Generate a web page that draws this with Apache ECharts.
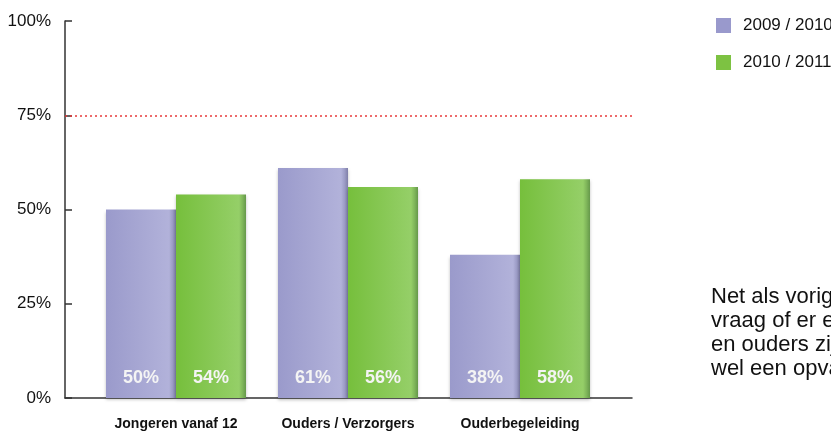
<!DOCTYPE html>
<html>
<head>
<meta charset="utf-8">
<script src="https://cdn.jsdelivr.net/npm/echarts@6/dist/echarts.min.js"></script>
<style>
	html, body { margin: 0; padding: 0; background: #fff; }
	#chart { width: 831px; height: 432px; }
</style>
</head>
<body>
<div id="chart"></div>
<script>
const categories = ["Jongeren vanaf 12", "Ouders / Verzorgers", "Ouderbegeleiding"]
const seriesNames = ["2009 / 2010", "2010 / 2011"]
const values2009 = [50, 61, 38]
const values2010 = [54, 56, 58]
const referenceLine = 75
const noteLines = ["Net als vorig jaar", "vraag of er een", "en ouders zijn", "wel een opvang"]

const font = "'Liberation Sans', Arial, sans-serif"

const barGradient = (c) =>
	new echarts.graphic.LinearGradient(0, 0, 1, 0, [
		{ offset: 0, color: c[0] },
		{ offset: 0.9, color: c[1] },
		{ offset: 0.95, color: c[2] },
		{ offset: 1, color: c[3] },
	])

const purple = ["#9a9acb", "#b2b2da", "#9c9cc6", "#7f7fa8"]
const green = ["#76bf3c", "#95cf68", "#7fb65a", "#65984a"]

const barLabel = {
	show: true,
	position: "insideBottom",
	distance: 11,
	color: "#f4f4f4",
	fontFamily: font,
	fontWeight: "bold",
	fontSize: 18,
	formatter: "{c}%",
}

const chart = echarts.init(document.getElementById("chart"))
const option = {
	animation: false,
	legend: {
		orient: "vertical",
		left: 711,
		top: 12,
		itemWidth: 15,
		itemHeight: 15,
		itemGap: 20,
		icon: "rect",
		textStyle: { fontFamily: font, fontSize: 17, color: "#111", padding: [0, 0, 0, 7] },
		data: [
			{ name: seriesNames[0], itemStyle: { color: "#9999cc" } },
			{ name: seriesNames[1], itemStyle: { color: "#7dc242" } },
		],
	},
	grid: [
		{ left: 65, right: 199, top: 21, bottom: 34, outerBoundsMode: "none" },
		{ left: 90, right: 225, top: 21, bottom: 34, outerBoundsMode: "none" },
	],
	xAxis: [
		{
			gridIndex: 0,
			type: "value",
			min: 0,
			max: 1,
			axisLine: { show: true, lineStyle: { color: "#333", width: 1.5 } },
			axisTick: { show: false },
			axisLabel: { show: false },
			splitLine: { show: false },
		},
		{
			gridIndex: 1,
			type: "category",
			data: categories,
			axisLine: { show: false },
			axisTick: { show: false },
			axisLabel: { interval: 0, margin: 19, color: "#111", fontFamily: font, fontWeight: "bold", fontSize: 14 },
		},
	],
	yAxis: [
		{
			gridIndex: 0,
			type: "value",
			min: 0,
			max: 100,
			interval: 25,
			axisLine: { show: true, lineStyle: { color: "#333", width: 1.5 } },
			axisTick: { show: true, inside: true, length: 7, lineStyle: { color: "#333", width: 1.5 } },
			axisLabel: { formatter: "{value}%", margin: 14, color: "#111", fontFamily: font, fontSize: 17 },
			splitLine: { show: false },
		},
		{ gridIndex: 1, type: "value", min: 0, max: 100, show: false },
	],
	graphic: [
		{
			type: "text",
			left: 711,
			top: 285,
			style: {
				text: noteLines.join("\n"),
				font: "22px " + font,
				lineHeight: 24,
				fill: "#111",
			},
		},
	],
	series: [
		{
			type: "line",
			xAxisIndex: 0,
			yAxisIndex: 0,
			data: [],
			silent: true,
			markLine: {
				silent: true,
				symbol: "none",
				label: { show: false },
				lineStyle: { color: "#e83a3a", opacity: 1, type: [2, 3], width: 1.5 },
				emphasis: { disabled: true },
				data: [{ yAxis: referenceLine }],
			},
		},
		{
			name: seriesNames[0],
			type: "bar",
			xAxisIndex: 1,
			yAxisIndex: 1,
			barWidth: 70,
			barGap: "0%",
			data: values2009,
			itemStyle: { color: barGradient(purple), shadowColor: "rgba(0,0,0,0.25)", shadowBlur: 3, shadowOffsetY: 2 },
			label: barLabel,
		},
		{
			name: seriesNames[1],
			type: "bar",
			xAxisIndex: 1,
			yAxisIndex: 1,
			barWidth: 70,
			barGap: "0%",
			data: values2010,
			itemStyle: { color: barGradient(green), shadowColor: "rgba(0,0,0,0.25)", shadowBlur: 3, shadowOffsetY: 2 },
			label: barLabel,
		},
	],
}
chart.setOption(option)
</script>
</body>
</html>
